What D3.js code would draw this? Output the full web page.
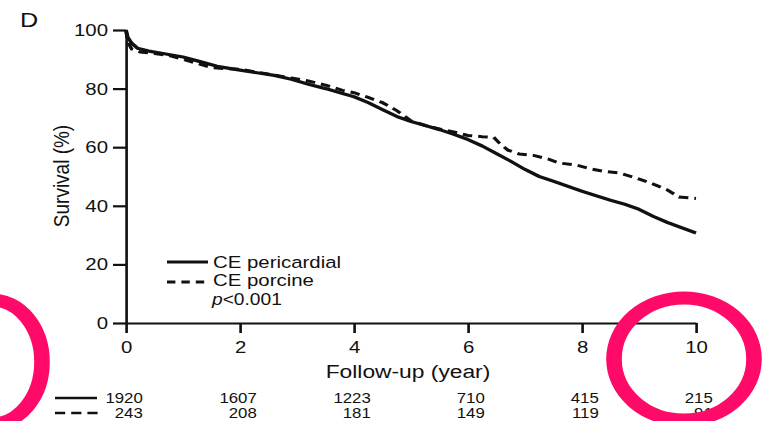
<!DOCTYPE html>
<html>
<head>
<meta charset="utf-8">
<script src="https://cdn.jsdelivr.net/npm/d3@7"></script>
<style>
  body { margin: 0; background: #fff; }
  svg { display: block; }
  text { font-family: "Liberation Sans", Arial, Helvetica, sans-serif; fill: #111; }
</style>
</head>
<body>
<svg id="chart"></svg>
<script>
// survival curves (year, %)
var pericardialYears = [0, 0.03, 0.1, 0.2, 0.4, 0.7, 1.0, 1.3, 1.6, 2.0, 2.3, 2.6, 2.9, 3.2, 3.5, 3.8, 4.0,
    4.25, 4.5, 4.75, 5.0, 5.25, 5.5, 5.75, 6.0, 6.25, 6.5, 6.75, 7.0, 7.25, 7.5, 7.75, 8.0,
    8.25, 8.5, 8.75, 9.0, 9.25, 9.5, 9.75, 10.0];
var pericardialSurv = [100, 97.5, 95.5, 93.8, 92.8, 91.8, 90.8, 89.2, 87.6, 86.3, 85.4, 84.5, 83.2, 81.5, 80.0, 78.3, 77.2,
    75.2, 72.8, 70.5, 68.8, 67.4, 66.0, 64.4, 62.6, 60.4, 57.8, 55.2, 52.4, 50.0, 48.4, 46.7, 45.0,
    43.4, 41.9, 40.5, 38.8, 36.4, 34.3, 32.5, 30.7];

var porcineYears = [0, 0.03, 0.1, 0.25, 0.5, 0.75, 1.0, 1.25, 1.5, 1.75, 2.0, 2.3, 2.6, 2.9, 3.2, 3.5, 3.8, 4.0,
    4.25, 4.5, 4.75, 5.0, 5.25, 5.5, 5.75, 6.0, 6.25, 6.45, 6.55, 6.7, 6.9, 7.15, 7.4, 7.6, 7.9,
    8.15, 8.35, 8.65, 8.95, 9.25, 9.5, 9.7, 10.0];
var porcineSurv = [100, 96, 93.5, 92.5, 92.0, 91.3, 90.0, 88.6, 87.2, 86.8, 86.6, 85.6, 84.6, 83.6, 82.6, 81.2, 79.4, 78.6,
    77.0, 75.2, 72.5, 69.0, 67.4, 66.2, 65.2, 64.0, 63.6, 63.4, 61.4, 59.0, 57.7, 57.2, 56.0, 54.6, 53.9,
    52.6, 51.9, 51.2, 49.5, 47.4, 45.4, 43.0, 42.5];

var xTicks = [0, 2, 4, 6, 8, 10];
var yTicks = [0, 20, 40, 60, 80, 100];

// numbers at risk
var riskYears = [0, 2, 4, 6, 8, 10];
var riskPericardial = [1920, 1607, 1223, 710, 415, 215];
var riskPorcine = [243, 208, 181, 149, 119, 91];

var W = 770, H = 421;
var SX = 1.2;                 // the figure is stretched sideways
var VW = W / SX;
function X(p) { return p / SX; }

var svg = d3.select('#chart')
    .attr('width', W).attr('height', H)
    .attr('viewBox', '0 0 ' + VW + ' ' + H)
    .attr('preserveAspectRatio', 'none');

svg.append('rect').attr('width', VW).attr('height', H).attr('fill', '#fff');

var x = d3.scaleLinear().domain([0, 10]).range([X(126), X(696)]);
var y = d3.scaleLinear().domain([0, 100]).range([323, 30]);

svg.append('text').attr('x', X(20)).attr('y', 27)
    .attr('font-size', 21).text('D');

// axes
var yAxis = svg.append('g')
    .attr('transform', 'translate(' + x(0) + ',0)')
    .call(d3.axisLeft(y).tickValues(yTicks).tickSize(X(13)).tickPadding(X(5)).tickSizeOuter(0));

var xAxis = svg.append('g')
    .attr('transform', 'translate(0,' + y(0) + ')')
    .call(d3.axisBottom(x).tickValues(xTicks).tickSize(10).tickPadding(8).tickSizeOuter(0));

[xAxis, yAxis].forEach(function(g) {
    g.select('.domain').attr('stroke', '#111').attr('stroke-width', 2.2);
    g.selectAll('.tick line').attr('stroke', '#111').attr('stroke-width', 2.2);
    g.selectAll('.tick text').attr('font-size', 17).attr('fill', '#111')
        .style('font-family', '"Liberation Sans", Arial, sans-serif');
});

svg.append('text')
    .attr('x', X(408)).attr('y', 378)
    .attr('text-anchor', 'middle').attr('font-size', 19)
    .text('Follow-up (year)');

svg.append('text')
    .attr('transform', 'translate(' + X(69) + ',176) rotate(-90)')
    .attr('text-anchor', 'middle').attr('font-size', 19)
    .text('Survival (%)');

// curves
var line = d3.line()
    .x(function(d) { return x(d[0]); })
    .y(function(d) { return y(d[1]); });

var pericardial = d3.zip(pericardialYears, pericardialSurv);
var porcine = d3.zip(porcineYears, porcineSurv);

svg.append('path').datum(porcine)
    .attr('d', line).attr('fill', 'none')
    .attr('stroke', '#111').attr('stroke-width', 3)
    .attr('stroke-dasharray', '8,5');

svg.append('path').datum(pericardial)
    .attr('d', line).attr('fill', 'none')
    .attr('stroke', '#111').attr('stroke-width', 3.2)
    .attr('stroke-linejoin', 'round');

// legend
var legend = svg.append('g');
legend.append('line')
    .attr('x1', X(167)).attr('x2', X(208)).attr('y1', 262).attr('y2', 262)
    .attr('stroke', '#111').attr('stroke-width', 3);
legend.append('line')
    .attr('x1', X(167)).attr('x2', X(210)).attr('y1', 282).attr('y2', 282)
    .attr('stroke', '#111').attr('stroke-width', 3).attr('stroke-dasharray', '7,5');
legend.append('text').attr('x', X(213)).attr('y', 268).attr('font-size', 17).text('CE pericardial');
legend.append('text').attr('x', X(213)).attr('y', 286).attr('font-size', 17).text('CE porcine');
var pt = legend.append('text').attr('x', X(212)).attr('y', 305).attr('font-size', 16);
pt.append('tspan').attr('font-style', 'italic').text('p');
pt.append('tspan').text('<0.001');

// numbers at risk
var risk = svg.append('g');
risk.append('line')
    .attr('x1', X(55)).attr('x2', X(97)).attr('y1', 398).attr('y2', 398)
    .attr('stroke', '#111').attr('stroke-width', 2.5);
risk.append('line')
    .attr('x1', X(55)).attr('x2', X(98)).attr('y1', 413).attr('y2', 413)
    .attr('stroke', '#111').attr('stroke-width', 2.5).attr('stroke-dasharray', '8.5,5');

[[riskPericardial, 403], [riskPorcine, 418]].forEach(function(row) {
    risk.selectAll(null).data(row[0]).enter().append('text')
        .attr('x', function(d, i) { return x(riskYears[i]) + 14; })
        .attr('y', row[1])
        .attr('text-anchor', 'end')
        .attr('font-size', 14)
        .text(function(d) { return d; });
});

// pink highlight rings drawn over the figure
svg.append('ellipse')
    .attr('cx', X(-8)).attr('cy', 362).attr('rx', X(50)).attr('ry', 62)
    .attr('fill', 'none').attr('stroke', '#ff0a68').attr('stroke-width', 13);
svg.append('ellipse')
    .attr('cx', X(684)).attr('cy', 359).attr('rx', X(70)).attr('ry', 61)
    .attr('fill', 'none').attr('stroke', '#ff0a68').attr('stroke-width', 13);
</script>
</body>
</html>
